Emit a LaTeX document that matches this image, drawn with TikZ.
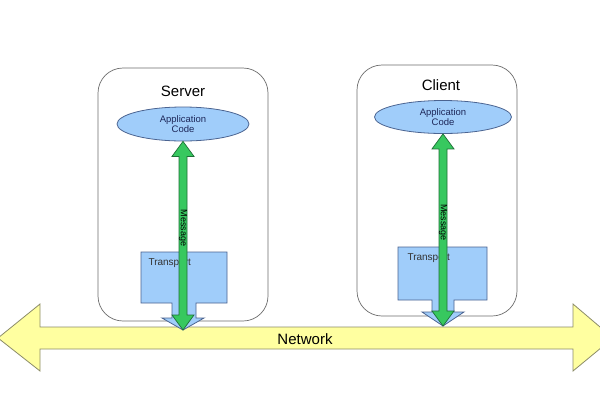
\documentclass[tikz,border=0pt]{standalone}
\usepackage{fontspec}
\setmainfont{Liberation Sans}
\usetikzlibrary{calc,shapes.geometric}

\definecolor{boxgray}{RGB}{110,110,110}
\definecolor{appblue}{RGB}{160,205,250}
\definecolor{edgeblue}{RGB}{75,100,145}
\definecolor{msggreen}{RGB}{55,200,95}
\definecolor{msgedge}{RGB}{30,110,55}
\definecolor{netyellow}{RGB}{255,255,160}
\definecolor{netedge}{RGB}{140,140,105}
\definecolor{appnavy}{RGB}{30,40,90}

\begin{document}
\begin{tikzpicture}[x=1pt,y=-1pt,
    host node/.style={rectangle,rounded corners=25pt,draw=boxgray,fill=white,line width=0.7pt},
    app node/.style={ellipse,draw=edgeblue,fill=appblue,inner sep=0pt,line width=0.8pt,
                     text=appnavy,align=center,font=\fontsize{9.5}{10.5}\selectfont},
    title node/.style={font=\fontsize{15}{17}\selectfont},
    small node/.style={font=\fontsize{10}{12}\selectfont,text=black!80},
    transport/.style={draw=edgeblue,fill=appblue,line width=0.8pt},
    msg arrow/.style={draw=msgedge,fill=msggreen,line width=0.7pt},
    net arrow/.style={draw=netedge,fill=netyellow,line width=0.8pt}]
  \fill[white] (0,0) rectangle (600,400);
  \useasboundingbox (0,0) rectangle (600,400);
  \clip (0,0) rectangle (600,400);

  % the two hosts
  \node[host node,minimum width=170pt,minimum height=253pt] (srvbox) at (183,194.5) {};
  \node[host node,minimum width=160pt,minimum height=251pt] (clibox) at (437,190.5) {};
  \node[title node] (srvname) at (183,91) {Server};
  \node[title node] (cliname) at (441,85) {Client};
  \node[app node,minimum width=132pt,minimum height=34pt] (srvapp) at (183,124) {Application\\Code};
  \node[app node,minimum width=137pt,minimum height=33pt] (cliapp) at (443,117) {Application\\Code};

  % network
  \draw[net arrow] (-2,338) -- (40,304) -- (40,327) -- (573,327) -- (573,304)
    -- (613,338) -- (573,371) -- (573,349) -- (40,349) -- (40,371) -- cycle;
  \node[title node] (net) at (305,339) {Network};

  % transport blocks
  \draw[transport] (141,252) -- (227,252) -- (227,303) -- (196,303) -- (196,318)
    -- (204,318) -- (183,330) -- (162,318) -- (172,318) -- (172,303) -- (141,303) -- cycle;
  \draw[transport] (398,247) -- (487,247) -- (487,300) -- (454,300) -- (454,312)
    -- (464,312) -- (443,326) -- (422,312) -- (432,312) -- (432,300) -- (398,300) -- cycle;
  \node[small node,anchor=west] (srvtrans) at (145,263) {Transport};
  \node[small node,anchor=west] (clitrans) at (404,258) {Transport};

  % messages
  \coordinate (srvtip) at (183,330);
  \coordinate (clitip) at (443,326);
  \foreach \app/\tip in {srvapp/srvtip,cliapp/clitip}{
    \draw[msg arrow] (\app.south) -- ($(\app.south)+(11,15)$) -- ($(\app.south)+(4,15)$)
      -- ($(\tip)+(4,-15)$) -- ($(\tip)+(11,-15)$) -- (\tip) -- ($(\tip)+(-11,-15)$)
      -- ($(\tip)+(-4,-15)$) -- ($(\app.south)+(-4,15)$) -- ($(\app.south)+(-11,15)$) -- cycle;
    \node[small node,rotate=-90,inner sep=0pt,text=black,font=\fontsize{9}{10}\selectfont]
      at ($(\app.south)!0.46!(\tip)$) {Message};
  }
\end{tikzpicture}
\end{document}
